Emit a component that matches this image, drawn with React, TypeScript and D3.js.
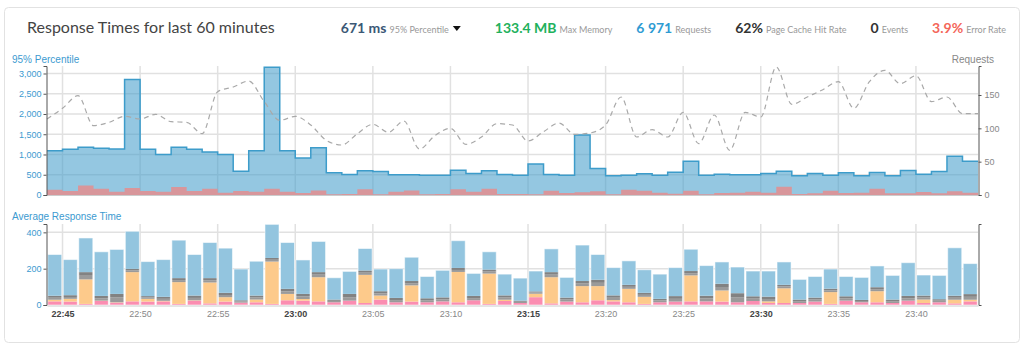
import React, { useEffect, useRef } from 'react';
import * as d3 from 'd3';

// 60 one-minute buckets, 22:44 -> 23:44
const startTime = new Date(2020, 0, 1, 22, 44);
const bucketCount = 60;

// top chart: 95% percentile (ms), left axis
const p95Values = [
    1095, 1127, 1176, 1152, 1136, 2851, 1127, 997, 1176, 1127,
    1062, 997, 588, 1095, 3154, 1095, 915, 1168, 547, 507,
    596, 580, 498, 498, 490, 490, 613, 531, 596, 507,
    490, 768, 507, 490, 1479, 654, 474, 490, 523, 490,
    564, 833, 490, 515, 498, 498, 531, 588, 474, 531,
    490, 547, 474, 556, 474, 605, 515, 580, 956, 833
];

// top chart: error part (ms)
const errorValues = [
    131, 98, 237, 155, 82, 172, 98, 82, 196, 98,
    155, 57, 98, 82, 155, 82, 49, 114, 16, 25,
    139, 16, 82, 114, 16, 25, 139, 82, 155, 25,
    25, 16, 106, 49, 65, 90, 16, 131, 106, 57,
    33, 106, 16, 49, 57, 82, 57, 204, 25, 41,
    106, 49, 57, 155, 41, 41, 74, 41, 90, 57
];

// top chart: requests per minute, right axis (one point per minute boundary)
const requestValues = [
    114, 130, 149, 104, 109, 118, 114, 121, 110, 109,
    92, 155, 162, 171, 140, 112, 118, 105, 82, 75,
    92, 106, 94, 111, 69, 89, 100, 76, 87, 107,
    105, 81, 95, 108, 91, 93, 105, 147, 87, 98,
    87, 124, 77, 120, 67, 124, 117, 192, 136, 147,
    158, 170, 130, 170, 187, 167, 179, 140, 147, 122,
    122
];

// bottom chart: average response time layers (ms), bottom -> top
const avgPink = [
    20, 19, 6, 22, 13, 20, 19, 20, 6, 24,
    9, 19, 13, 15, 6, 26, 24, 20, 15, 24,
    11, 30, 15, 19, 15, 20, 15, 26, 6, 22,
    11, 43, 9, 19, 15, 26, 20, 15, 6, 15,
    19, 20, 20, 19, 15, 22, 11, 11, 11, 19,
    6, 24, 15, 15, 11, 24, 11, 15, 9, 20
];
const avgOrange = [
    9, 15, 135, 2, 2, 161, 15, 3, 120, 2,
    115, 24, 0, 15, 233, 35, 9, 133, 0, 0,
    155, 22, 0, 89, 0, 0, 167, 0, 167, 7,
    0, 19, 144, 0, 89, 78, 7, 74, 39, 0,
    0, 143, 0, 61, 0, 0, 9, 81, 0, 0,
    65, 0, 0, 61, 0, 0, 19, 0, 20, 9
];
const avgGrayLow = [
    11, 10, 20, 13, 26, 9, 8, 11, 11, 13,
    12, 12, 7, 11, 10, 14, 14, 14, 8, 19,
    12, 12, 12, 12, 11, 11, 11, 12, 11, 12,
    7, 7, 14, 11, 14, 18, 13, 11, 11, 10,
    15, 12, 16, 19, 28, 13, 13, 10, 10, 11,
    10, 12, 7, 11, 10, 13, 11, 9, 11, 16
];
const avgGrayHigh = [
    11, 10, 20, 13, 20, 9, 7, 11, 11, 13,
    12, 12, 6, 11, 10, 14, 14, 14, 7, 18,
    12, 12, 12, 12, 11, 11, 11, 12, 11, 12,
    6, 6, 14, 11, 14, 17, 13, 11, 11, 9,
    15, 12, 15, 18, 22, 13, 13, 9, 9, 11,
    9, 12, 6, 11, 9, 13, 11, 8, 11, 15
];
const avgBlue = [
    227, 196, 188, 243, 245, 207, 190, 205, 209, 226,
    196, 246, 172, 189, 185, 255, 187, 169, 120, 124,
    121, 122, 161, 131, 120, 149, 150, 124, 98, 117,
    124, 112, 128, 111, 198, 139, 153, 132, 127, 136,
    157, 120, 166, 120, 144, 139, 141, 126, 111, 116,
    108, 109, 124, 117, 133, 183, 113, 131, 264, 168
];

const p95Ticks = [0, 500, 1000, 1500, 2000, 2500, 3000];
const requestTicks = [0, 50, 100, 150];
const avgTicks = [0, 200, 400];

const statValues = ['671 ms', '133.4 MB', '6 971', '62%', '0', '3.9%'];
const statLabels = ['95% Percentile', 'Max Memory', 'Requests', 'Page Cache Hit Rate', 'Events', 'Error Rate'];
const statColors = ['#3b5876', '#22b15c', '#2f9bd3', '#333333', '#333333', '#f4665a'];

const HEAD_FONT = 'Lato, "Noto Sans", sans-serif';
const CHART_FONT = '"Liberation Sans", Arial, sans-serif';

const App = () => {
    const ref = useRef<SVGSVGElement>(null);

    useEffect(() => {
        const svg = d3.select(ref.current);
        svg.selectAll('*').remove();

        const left = 47;
        const right = 978;
        const topY0 = 195, topY1 = 66;
        const botY0 = 305, botY1 = 224;

        // card
        svg.append('rect')
            .attr('x', 4.5).attr('y', 7.5)
            .attr('width', 1015).attr('height', 335)
            .attr('rx', 4)
            .attr('fill', '#fff')
            .attr('stroke', '#e2e2e2');

        svg.append('text')
            .attr('x', 27).attr('y', 33)
            .attr('font-family', HEAD_FONT)
            .attr('font-size', 16)
            .attr('fill', '#444')
            .text('Response Times for last 60 minutes');

        // header stats, laid out right to left
        let cursor = 1006;
        for (let i = statValues.length - 1; i >= 0; i--) {
            const g = svg.append('g');
            const v = g.append('text')
                .attr('y', 33)
                .attr('font-family', HEAD_FONT)
                .attr('font-size', 14)
                .attr('font-weight', 700)
                .attr('fill', statColors[i])
                .text(statValues[i]);
            const l = g.append('text')
                .attr('y', 33)
                .attr('font-family', HEAD_FONT)
                .attr('font-size', 9)
                .attr('fill', '#999')
                .text(statLabels[i]);
            const vw = (v.node() as SVGTextElement).getComputedTextLength();
            const lw = (l.node() as SVGTextElement).getComputedTextLength();
            const caret = i === 0 ? 14 : 0;
            const total = vw + 3 + lw + caret;
            const x0 = cursor - total;
            v.attr('x', x0);
            l.attr('x', x0 + vw + 3);
            if (i === 0) {
                const cx = x0 + vw + 3 + lw + 8;
                g.append('path')
                    .attr('d', `M${cx - 4},26 L${cx + 4},26 L${cx},31 Z`)
                    .attr('fill', '#111');
            }
            cursor = x0 - (i === 1 ? 32 : 24);
        }

        const times = d3.range(bucketCount + 1).map(i => d3.timeMinute.offset(startTime, i));
        const x = d3.scaleTime().domain([times[0], times[bucketCount]]).range([left, right]);
        const yTop = d3.scaleLinear().domain([0, 3185]).range([topY0, topY1]);
        const yReq = d3.scaleLinear().domain([0, 193.5]).range([topY0, topY1]);
        const yAvg = d3.scaleLinear().domain([0, 446]).range([botY0, botY1]);

        const gridTimes = x.ticks(d3.timeMinute.every(5) as any);

        const grid = svg.append('g').attr('stroke', '#e1e1e1').attr('stroke-width', 1.5);
        gridTimes.forEach(t => {
            grid.append('line').attr('x1', x(t)).attr('x2', x(t)).attr('y1', topY1).attr('y2', topY0);
            grid.append('line').attr('x1', x(t)).attr('x2', x(t)).attr('y1', botY1).attr('y2', botY0);
        });
        p95Ticks.slice(1).forEach(v => {
            grid.append('line').attr('x1', left).attr('x2', right).attr('y1', yTop(v)).attr('y2', yTop(v));
        });
        avgTicks.slice(1).forEach(v => {
            grid.append('line').attr('x1', left).attr('x2', right).attr('y1', yAvg(v)).attr('y2', yAvg(v));
        });

        // ---- top chart
        const p95Pts = times.map((t, i) => ({ t, v: p95Values[Math.min(i, bucketCount - 1)] }));
        const errPts = times.map((t, i) => ({ t, v: errorValues[Math.min(i, bucketCount - 1)] }));

        const area = d3.area<{ t: Date, v: number }>()
            .x(d => x(d.t))
            .y0(yTop(0))
            .y1(d => yTop(d.v))
            .curve(d3.curveStepAfter);
        const stepLine = d3.line<{ t: Date, v: number }>()
            .x(d => x(d.t))
            .y(d => yTop(d.v))
            .curve(d3.curveStepAfter);

        svg.append('path')
            .attr('d', area(p95Pts))
            .attr('fill', 'rgba(70,158,204,0.58)');
        svg.append('path')
            .attr('d', stepLine(p95Pts))
            .attr('fill', 'none')
            .attr('stroke', '#3d9cca')
            .attr('stroke-width', 1.5);
        svg.append('path')
            .attr('d', area(errPts))
            .attr('fill', '#d8969b');

        svg.append('line')
            .attr('x1', left).attr('x2', right)
            .attr('y1', topY0 + 0.5).attr('y2', topY0 + 0.5)
            .attr('stroke', '#ccc');

        const reqLine = d3.line<number>()
            .x((d, i) => x(times[i]))
            .y(d => yReq(d))
            .curve(d3.curveMonotoneX);
        svg.append('path')
            .attr('d', reqLine(requestValues))
            .attr('fill', 'none')
            .attr('stroke', '#a9a9a9')
            .attr('stroke-width', 1.2)
            .attr('stroke-dasharray', '5,4');

        // ---- bottom chart, stacked bars
        const layers = [avgPink, avgOrange, avgGrayLow, avgGrayHigh, avgBlue];
        const layerColors = ['#fb8db1', '#fdca8b', '#9a9a9a', '#828282', '#93c5df'];
        const rows = d3.range(bucketCount).map(i => {
            const r: any = { i };
            layers.forEach((arr, k) => { r['k' + k] = arr[i]; });
            return r;
        });
        const stacked = d3.stack().keys(layers.map((_, k) => 'k' + k))(rows);

        const barGroup = svg.append('g');
        stacked.forEach((layer, k) => {
            barGroup.selectAll(null)
                .data(layer)
                .enter()
                .append('rect')
                .attr('x', (d, i) => x(times[i]) + 0.75)
                .attr('width', (d, i) => x(times[i + 1]) - x(times[i]) - 1.5)
                .attr('y', d => yAvg(d[1]))
                .attr('height', d => Math.max(0, yAvg(d[0]) - yAvg(d[1])))
                .attr('fill', layerColors[k]);
        });
        // light outline of each column
        barGroup.selectAll(null)
            .data(stacked[stacked.length - 1])
            .enter()
            .append('rect')
            .attr('x', (d, i) => x(times[i]) + 0.75)
            .attr('width', (d, i) => x(times[i + 1]) - x(times[i]) - 1.5)
            .attr('y', d => yAvg(d[1]))
            .attr('height', d => yAvg(0) - yAvg(d[1]))
            .attr('fill', 'none')
            .attr('stroke', 'rgba(255,255,255,0.55)')
            .attr('stroke-width', 1);

        // ---- axes
        const styleAxis = (g: any, color: string) => {
            g.selectAll('.domain').attr('stroke', '#555');
            g.selectAll('.tick line').attr('stroke', '#555');
            g.selectAll('text').attr('fill', color).attr('font-family', CHART_FONT).attr('font-size', 9);
        };

        const gLeftTop = svg.append('g')
            .attr('transform', `translate(${left - 0.5},0)`)
            .call(d3.axisLeft(yTop).tickValues(p95Ticks).tickSize(3).tickSizeOuter(3).tickPadding(2).tickFormat(d3.format(',')) as any);
        styleAxis(gLeftTop, '#3c9ad0');

        const gRightTop = svg.append('g')
            .attr('transform', `translate(${right + 0.5},0)`)
            .call(d3.axisRight(yReq).tickValues(requestTicks).tickSize(3).tickSizeOuter(3).tickPadding(3) as any);
        styleAxis(gRightTop, '#888');

        const gLeftBot = svg.append('g')
            .attr('transform', `translate(${left - 0.5},0)`)
            .call(d3.axisLeft(yAvg).tickValues(avgTicks).tickSize(3).tickSizeOuter(3).tickPadding(2) as any);
        styleAxis(gLeftBot, '#3c9ad0');

        const gRightBot = svg.append('g')
            .attr('transform', `translate(${right + 0.5},0)`)
            .call(d3.axisRight(yAvg).tickValues([]).tickSize(3).tickSizeOuter(3) as any);
        styleAxis(gRightBot, '#888');

        const gx = svg.append('g')
            .attr('transform', `translate(0,${botY0 + 0.5})`)
            .call(d3.axisBottom(x).tickValues(gridTimes).tickSize(0).tickPadding(5).tickFormat(d3.timeFormat('%H:%M') as any) as any);
        gx.selectAll('.domain').attr('stroke', '#ccc');
        gx.selectAll('text')
            .attr('font-family', CHART_FONT)
            .attr('font-size', 9)
            .attr('font-weight', (d: any) => (d.getMinutes() % 15 === 0 ? 700 : 400))
            .attr('fill', (d: any) => (d.getMinutes() % 15 === 0 ? '#444' : '#888'));

        // chart titles
        svg.append('text')
            .attr('x', 12).attr('y', 63)
            .attr('font-family', CHART_FONT).attr('font-size', 10)
            .attr('fill', '#3c9ad0')
            .text('95% Percentile');
        svg.append('text')
            .attr('x', 994).attr('y', 63)
            .attr('text-anchor', 'end')
            .attr('font-family', CHART_FONT).attr('font-size', 10)
            .attr('fill', '#888')
            .text('Requests');
        svg.append('text')
            .attr('x', 12).attr('y', 220)
            .attr('font-family', CHART_FONT).attr('font-size', 10)
            .attr('fill', '#3c9ad0')
            .text('Average Response Time');
    }, []);

    return (
        <svg ref={ref} width={1024} height={351} style={{ position: 'absolute', left: 0, top: 0, background: '#fff' }} />
    );
};

export default App;
